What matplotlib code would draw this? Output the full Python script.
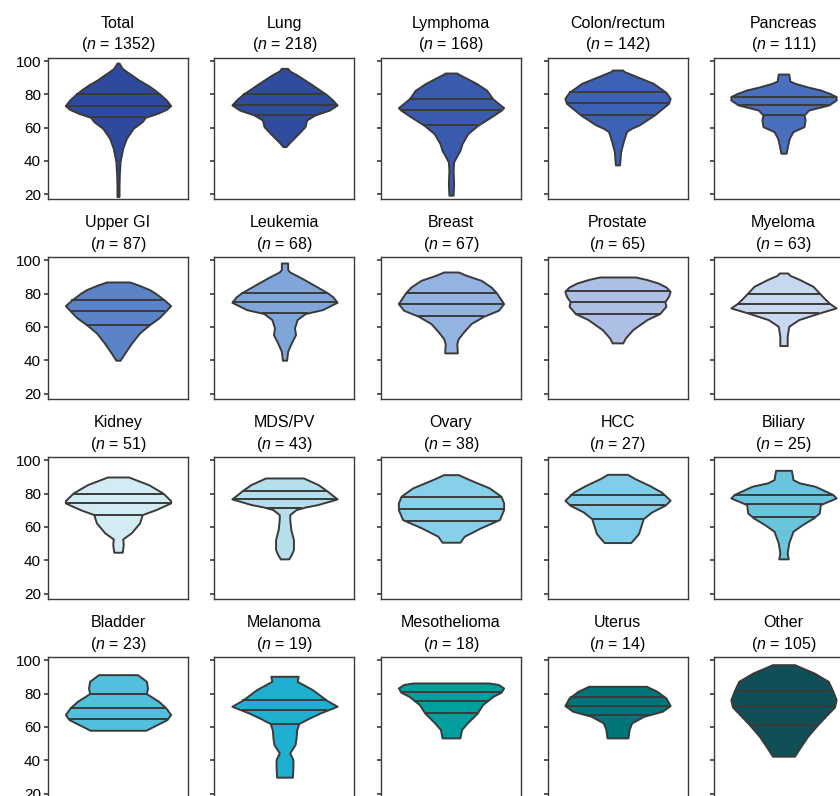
import matplotlib
matplotlib.use("Agg")
import matplotlib.pyplot as plt
import numpy as np

plt.rcParams["font.family"] = ["Liberation Sans", "DejaVu Sans"]
plt.rcParams["mathtext.fontset"] = "custom"
plt.rcParams["mathtext.rm"] = "Liberation Sans"
plt.rcParams["mathtext.it"] = "Liberation Sans:italic"

names = ["Total", "Lung", "Lymphoma", "Colon/rectum", "Pancreas",
         "Upper GI", "Leukemia", "Breast", "Prostate", "Myeloma",
         "Kidney", "MDS/PV", "Ovary", "HCC", "Biliary",
         "Bladder", "Melanoma", "Mesothelioma", "Uterus", "Other"]
counts = [1352, 218, 168, 142, 111, 87, 68, 67, 65, 63,
          51, 43, 38, 27, 25, 23, 19, 18, 14, 105]
colors = ["#2E4A9E", "#304C9E", "#3A5AAD", "#3D62B5", "#4A6FBF",
          "#5B84C8", "#7EA6DB", "#93B4E1", "#ADBFE5", "#C8D8F1",
          "#D3EBF3", "#B5DFEA", "#86D0E9", "#7FCDE8", "#6AC4DC",
          "#52C0DC", "#1FAFD0", "#00A09F", "#00767A", "#114F56"]

# quartiles (Q1, median, Q3)
quartiles = [(66.2, 73.2, 80.0), (67.6, 73.6, 80.0), (61.4, 70.4, 77.4), (67.6, 74.6, 81.2), (67.6, 73.6, 78.6),
             (61.4, 69.4, 76.0), (68.4, 74.8, 80.4), (66.4, 74.0, 80.6), (68.0, 75.0, 81.4), (68.4, 74.0, 80.0),
             (67.4, 74.4, 80.0), (71.4, 76.8, 81.8), (63.8, 70.8, 78.0), (65.0, 73.0, 79.0), (66.0, 73.8, 79.4),
             (65.0, 71.4, 80.0), (62.0, 70.0, 76.0), (68.4, 75.8, 80.8), (67.4, 72.8, 77.8), (61.4, 72.4, 81.8)]

# violin outlines: score levels (bottom to top) and relative half-widths
levels = [
    [18.6, 25, 31.6, 39.6, 47.6, 53.6, 59.6, 63.6, 66.2, 68.6, 71, 73.2, 76.5, 80, 83, 85.6, 88.5, 91.6, 93.5, 95.6, 98.8],
    [48.6, 51.2, 55.6, 60.6, 64.6, 67.6, 70.5, 73.6, 77, 80, 85.6, 91.6, 94, 95.6],
    [19.4, 26.4, 34.4, 39.4, 42.4, 46.4, 50.4, 56.4, 61.4, 66.4, 70.4, 72, 74.5, 77.4, 82.4, 86.4, 90.4, 92, 92.8],
    [37.6, 41.6, 45.6, 51.6, 57.6, 59.5, 61.6, 67.6, 74.6, 77.6, 81.2, 86.6, 91.6, 93.8, 94.6],
    [44.6, 49.6, 53.6, 57.6, 60.6, 64.6, 67.6, 70.6, 73.6, 76.6, 78.6, 80.5, 82.6, 84.5, 86.6, 88.0, 92.2],
    [40, 44.4, 50.4, 56.4, 61.4, 65.5, 69.4, 72.8, 76.4, 80, 82.4, 85, 87],
    [40, 45.4, 50.4, 55.4, 59.4, 64.4, 68, 70.4, 74.8, 78, 80.4, 84.4, 89.4, 93, 94.4, 98.4],
    [44.4, 50, 53, 57, 62, 66.4, 70, 74, 80.6, 84, 88, 91, 93],
    [50.4, 53.4, 58.4, 64.4, 68, 72.4, 75.2, 78.4, 81.4, 84, 86.4, 88.5, 90],
    [48.8, 54.4, 60.4, 64.4, 68.4, 71.4, 74, 76.4, 80, 84.4, 88.4, 91, 92.4],
    [44.8, 49.4, 52.8, 56.4, 62.4, 67.4, 70.4, 74.4, 75.8, 80.4, 85.4, 90],
    [40.8, 43.5, 46.4, 52.4, 58.4, 64.4, 67.4, 70.4, 72, 73.4, 76.8, 78.8, 81.8, 85.4, 89.4],
    [50.8, 54.4, 59.4, 64.4, 70.4, 74.4, 78.4, 83.4, 88.4, 91.4],
    [50.6, 53, 56, 62, 65, 69, 73, 76, 79, 81, 85, 89, 91.6],
    [40.8, 44.4, 50.4, 57.4, 61.4, 65.4, 68.4, 73.4, 77.4, 79.4, 84.4, 86.5, 88.4, 94],
    [58, 60.4, 64.4, 67.4, 71.4, 75.4, 80, 83.4, 87.4, 91.4],
    [29.8, 35.4, 40.4, 44.4, 49.4, 53.4, 58, 62, 65, 68.4, 72.4, 76, 82.4, 87.4, 90.4],
    [53.4, 58.4, 62.4, 68.4, 73.4, 78.4, 80.8, 83.4, 85.5, 86.4],
    [53.4, 58.4, 62.4, 66.4, 69.4, 72.8, 77.4, 81.4, 84.4],
    [42.4, 47.4, 54.4, 61.4, 66.4, 72, 76.4, 82, 87.4, 92.4, 95.5, 97.4],
]
widths = [
    [0.02, 0.02, 0.025, 0.04, 0.09, 0.16, 0.29, 0.46, 0.52, 0.75, 0.92, 1.0, 0.92, 0.8, 0.68, 0.56, 0.4, 0.26, 0.17, 0.08, 0.02],
    [0.03, 0.1, 0.24, 0.39, 0.42, 0.58, 0.85, 1.0, 0.9, 0.79, 0.53, 0.24, 0.1, 0.06],
    [0.04, 0.05, 0.04, 0.05, 0.1, 0.17, 0.21, 0.32, 0.51, 0.76, 0.95, 1.0, 0.9, 0.79, 0.68, 0.49, 0.25, 0.15, 0.11],
    [0.04, 0.05, 0.06, 0.11, 0.17, 0.26, 0.41, 0.7, 0.97, 1.0, 0.92, 0.68, 0.29, 0.12, 0.1],
    [0.05, 0.08, 0.11, 0.18, 0.39, 0.41, 0.39, 0.48, 0.86, 1.0, 1.0, 0.88, 0.7, 0.45, 0.22, 0.12, 0.1],
    [0.04, 0.13, 0.26, 0.41, 0.6, 0.78, 0.9, 1.0, 0.87, 0.72, 0.6, 0.4, 0.22],
    [0.04, 0.06, 0.13, 0.21, 0.19, 0.24, 0.39, 0.72, 1.0, 0.92, 0.82, 0.6, 0.32, 0.1, 0.06, 0.06],
    [0.12, 0.11, 0.14, 0.24, 0.38, 0.62, 0.9, 1.0, 0.86, 0.76, 0.57, 0.29, 0.14],
    [0.1, 0.15, 0.29, 0.56, 0.8, 0.92, 0.9, 0.97, 1.0, 0.92, 0.77, 0.55, 0.34],
    [0.07, 0.07, 0.1, 0.29, 0.68, 1.0, 0.88, 0.8, 0.69, 0.56, 0.31, 0.12, 0.08],
    [0.08, 0.1, 0.09, 0.25, 0.41, 0.46, 0.72, 1.0, 1.0, 0.85, 0.58, 0.2],
    [0.08, 0.13, 0.17, 0.17, 0.12, 0.1, 0.1, 0.22, 0.4, 0.63, 1.0, 0.92, 0.8, 0.64, 0.36],
    [0.17, 0.25, 0.56, 0.92, 1.0, 1.0, 0.95, 0.73, 0.35, 0.14],
    [0.25, 0.32, 0.4, 0.46, 0.49, 0.65, 0.9, 1.0, 0.9, 0.83, 0.6, 0.33, 0.19],
    [0.09, 0.07, 0.1, 0.18, 0.36, 0.57, 0.68, 0.7, 1.0, 0.94, 0.6, 0.3, 0.18, 0.15],
    [0.53, 0.68, 0.93, 1.0, 0.91, 0.77, 0.54, 0.56, 0.54, 0.37],
    [0.15, 0.16, 0.16, 0.1, 0.2, 0.22, 0.23, 0.27, 0.45, 0.68, 1.0, 0.8, 0.53, 0.24, 0.26],
    [0.17, 0.2, 0.31, 0.5, 0.6, 0.8, 0.95, 1.0, 0.9, 0.72],
    [0.2, 0.22, 0.27, 0.5, 0.85, 1.0, 0.92, 0.75, 0.55],
    [0.21, 0.31, 0.46, 0.65, 0.8, 0.97, 1.0, 0.93, 0.85, 0.58, 0.35, 0.21],
]

EDGE = "#3a3a3a"
HALF = 0.376  # max half-width of a violin in axis units

W, H = 840, 796
fig = plt.figure(figsize=(W / 100, H / 100), dpi=100)

col_left = [48, 214.5, 381, 547.5, 713.5]
row_top = [57.7, 257, 457, 657]
ax_w, ax_h = 140, 141.5

for i, name in enumerate(names):
    r, c = divmod(i, 5)
    ax = fig.add_axes([col_left[c] / W, 1 - (row_top[r] + ax_h) / H, ax_w / W, ax_h / H])
    y = np.array(levels[i])
    w = np.array(widths[i]) * HALF
    ax.fill_betweenx(y, -w, w, facecolor=colors[i], edgecolor=EDGE, linewidth=1.4, zorder=2)
    for q in quartiles[i]:
        hw = np.interp(q, y, w)
        ax.hlines(q, -hw, hw, color=EDGE, linewidth=1.4, zorder=3)

    ax.set_xlim(-0.5, 0.5)
    ax.set_ylim(17, 102)
    ax.set_xticks([])
    ax.set_yticks([20, 40, 60, 80, 100])
    ax.tick_params(axis="y", direction="out", length=3, width=1.2, color=EDGE,
                   labelsize=11, pad=2, labelleft=(c == 0))
    for sp in ax.spines.values():
        sp.set_color(EDGE)
        sp.set_linewidth(1.0)
    ax.set_title(f"{name}\n($n$ = {counts[i]})", fontsize=11.5, pad=6, linespacing=1.3)

fig.savefig("out.png", dpi=100)
